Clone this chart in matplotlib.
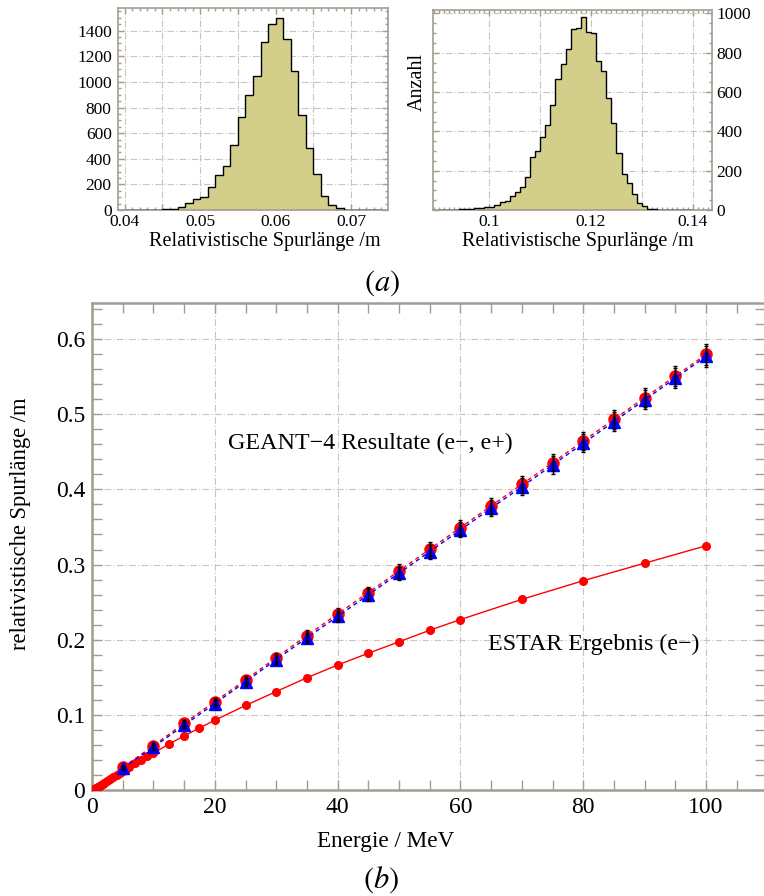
import numpy as np
import matplotlib
matplotlib.use("Agg")
import matplotlib.pyplot as plt
from matplotlib.ticker import MultipleLocator

plt.rcParams['font.family'] = ['Liberation Serif', 'DejaVu Serif']
plt.rcParams['mathtext.fontset'] = 'stix'

# track length histograms (bin width 1 mm)
hist_lo_start = 0.040
hist_lo_counts = [0, 0, 0, 0,
                  2, 8, 10, 24, 57, 89, 101, 177, 273, 347, 505, 723, 898,
                  1049, 1313, 1451, 1500, 1337, 1087, 740, 485, 282, 110,
                  37, 13, 3,
                  0, 0, 0, 0]
hist_hi_start = 0.090
hist_hi_counts = [0, 0, 1, 2, 3, 4, 6, 8, 10, 14,
                  17, 24, 42, 46, 71, 93, 119, 166, 271, 302,
                  369, 432, 532, 666, 741, 817, 920, 924, 980, 907,
                  898, 758, 707, 571, 441, 292, 183, 139, 80, 37,
                  22, 5, 3, 1, 0, 0, 0, 0, 0, 0]
bin_width = 0.001

# ESTAR CSDA ranges (e-)
estar_energy = [0.01, 0.02, 0.03, 0.05, 0.07, 0.1, 0.15, 0.2, 0.3, 0.4, 0.5,
                0.6, 0.7, 0.8, 0.9, 1.0, 1.25, 1.5, 1.75, 2.0, 2.5, 3.0, 3.5,
                4.0, 4.5, 5.0, 5.5, 6.0, 7.0, 8.0, 9.0, 10, 12.5, 15, 17.5,
                20, 25, 30, 35, 40, 45, 50, 55, 60, 70, 80, 90, 100]
estar_range = [0.000003, 0.000009, 0.000018, 0.000043, 0.000078, 0.00014,
               0.00028, 0.00045, 0.00084, 0.0013, 0.0018, 0.0023, 0.0028,
               0.0033, 0.0038, 0.0044, 0.0057, 0.0071, 0.0084, 0.0098,
               0.0125, 0.0151, 0.0178, 0.0204, 0.0230, 0.0255, 0.0280,
               0.0305, 0.0355, 0.0401, 0.0451, 0.0490, 0.0610, 0.0720,
               0.0825, 0.0928, 0.1125, 0.1310, 0.1494, 0.1663, 0.1820,
               0.1972, 0.2126, 0.2268, 0.2536, 0.2785, 0.3018, 0.3250]

# GEANT-4 results
g4_energy = [5, 10, 15, 20, 25, 30, 35, 40, 45, 50,
             55, 60, 65, 70, 75, 80, 85, 90, 95, 100]
g4_electron = [0.0300, 0.0590, 0.0888, 0.1177, 0.1465, 0.1762, 0.2055,
               0.2343, 0.2627, 0.2915, 0.3204, 0.3492, 0.3780, 0.4068,
               0.4355, 0.4644, 0.4932, 0.5220, 0.5508, 0.5795]
g4_positron = [0.0290, 0.0570, 0.0862, 0.1150, 0.1440, 0.1735, 0.2025,
               0.2310, 0.2597, 0.2885, 0.3172, 0.3460, 0.3750, 0.4035,
               0.4325, 0.4612, 0.4902, 0.5190, 0.5480, 0.5770]
g4_error = [0.0025, 0.0035, 0.0040, 0.0050, 0.0055, 0.0062, 0.0068,
            0.0075, 0.0080, 0.0088, 0.0092, 0.0100, 0.0105, 0.0110,
            0.0115, 0.0120, 0.0123, 0.0127, 0.0130, 0.0135]

frame_col = '#a49c91'
grid_col = '#cbc4ba'
fill_col = '#d3ce8a'
W, H = 764, 896

fig = plt.figure(figsize=(W / 100, H / 100), dpi=100)


def px_axes(x0, y0, x1, y1):
    return fig.add_axes([x0 / W, 1 - y1 / H, (x1 - x0) / W, (y1 - y0) / H])


def style_frame(ax, lw, ticklen):
    for sp in ax.spines.values():
        sp.set_color(frame_col)
        sp.set_linewidth(lw)
    ax.tick_params(which='both', direction='in', top=True, right=True,
                   color=frame_col, width=1.0)
    ax.tick_params(which='major', length=ticklen)
    ax.tick_params(which='minor', length=ticklen * 0.6)
    ax.grid(True, which='major', color=grid_col, lw=0.8,
            linestyle=(0, (6, 2, 1, 2)))
    ax.set_axisbelow(True)


def draw_hist(ax, start, counts):
    edges = start + bin_width * np.arange(len(counts) + 1)
    ax.stairs(counts, edges, fill=True, color=fill_col, zorder=2)
    ax.stairs(counts, edges, baseline=0, color='black', lw=1.0, zorder=3)


# left histogram
ax1 = px_axes(118, 8, 388, 210)
draw_hist(ax1, hist_lo_start, hist_lo_counts)
ax1.set_xlim(0.0391, 0.0749)
ax1.set_ylim(0, 1577)
ax1.set_xticks([0.040, 0.045, 0.050, 0.055, 0.060, 0.065, 0.070],
               ['0.04', '', '0.05', '', '0.06', '', '0.07'])
ax1.set_yticks(range(0, 1401, 200))
ax1.xaxis.set_minor_locator(MultipleLocator(0.001))
ax1.yaxis.set_minor_locator(MultipleLocator(50))
style_frame(ax1, 1.2, 4)
ax1.tick_params(labelsize=12.5)
ax1.tick_params(axis='x', pad=3)
ax1.tick_params(axis='y', pad=4.5)
ax1.set_xlabel('Relativistische Spurlänge /m', fontsize=14.5)
ax1.xaxis.set_label_coords(0.545, -0.11)

# right histogram
ax2 = px_axes(433, 10, 712, 210)
draw_hist(ax2, hist_hi_start, hist_hi_counts)
ax2.set_xlim(0.0889, 0.1438)
ax2.set_ylim(0, 1017)
ax2.set_xticks([0.10, 0.11, 0.12, 0.13, 0.14],
               ['0.1', '', '0.12', '', '0.14'])
ax2.set_yticks(range(0, 1001, 200))
ax2.xaxis.set_minor_locator(MultipleLocator(0.001))
ax2.yaxis.set_minor_locator(MultipleLocator(50))
style_frame(ax2, 1.2, 4)
ax2.tick_params(labelsize=12.5, pad=3)
ax2.tick_params(axis='y', labelleft=False, labelright=True)
ax2.set_xlabel('Relativistische Spurlänge /m', fontsize=14.5)
ax2.xaxis.set_label_coords(0.52, -0.11)
fig.text(417 / W, 1 - 82 / H, 'Anzahl', rotation=90, fontsize=14.5,
         ha='center', va='center')

fig.text(382 / W, 1 - 283 / H, r'$(a)$', fontsize=22, ha='center', va='center')

# range vs energy
ax3 = px_axes(92, 303, 765, 790)
ax3.plot(estar_energy, estar_range, '-o', color='red', lw=1.0, ms=5.5,
         zorder=3)
ax3.plot(g4_energy, g4_electron, linestyle='--', dashes=(3, 2.5),
         color='red', lw=1.0, marker='o', ms=8, zorder=4)
ax3.plot(g4_energy, g4_positron, linestyle='--', dashes=(3, 2.5),
         color='blue', lw=1.0, marker='^', ms=8.5, zorder=5)
ax3.errorbar(g4_energy, g4_electron, yerr=g4_error, fmt='none',
             ecolor='black', elinewidth=1.0, capsize=1.5, zorder=6)
ax3.errorbar(g4_energy, g4_positron, yerr=g4_error, fmt='none',
             ecolor='black', elinewidth=1.0, capsize=1.5, zorder=6)
ax3.set_xlim(0, 109.6)
ax3.set_ylim(0, 0.648)
ax3.xaxis.set_major_locator(MultipleLocator(20))
ax3.xaxis.set_minor_locator(MultipleLocator(5))
ax3.yaxis.set_major_locator(MultipleLocator(0.1))
ax3.yaxis.set_minor_locator(MultipleLocator(0.02))
ax3.yaxis.set_major_formatter(lambda v, p: '0' if v == 0 else f'{v:.1f}')
style_frame(ax3, 1.8, 7)
ax3.tick_params(which='minor', length=7)
ax3.tick_params(labelsize=17, pad=5)
ax3.set_xlabel('Energie / MeV', fontsize=16.7)
ax3.xaxis.set_label_coords(0.437, -0.085)
ax3.set_ylabel('relativistische Spurlänge /m', fontsize=16.3)
ax3.yaxis.set_label_coords(-0.09, 0.547)
ax3.text(22.1, 0.4616, 'GEANT\u22124 Resultate (e\u2212, e+)', fontsize=17.3,
         va='center', ha='left')
ax3.text(64.5, 0.194, 'ESTAR Ergebnis (e\u2212)', fontsize=17.3,
         va='center', ha='left')

fig.text(381 / W, 1 - 880 / H, r'$(b)$', fontsize=22, ha='center', va='center')

fig.savefig('out.png', dpi=100)
